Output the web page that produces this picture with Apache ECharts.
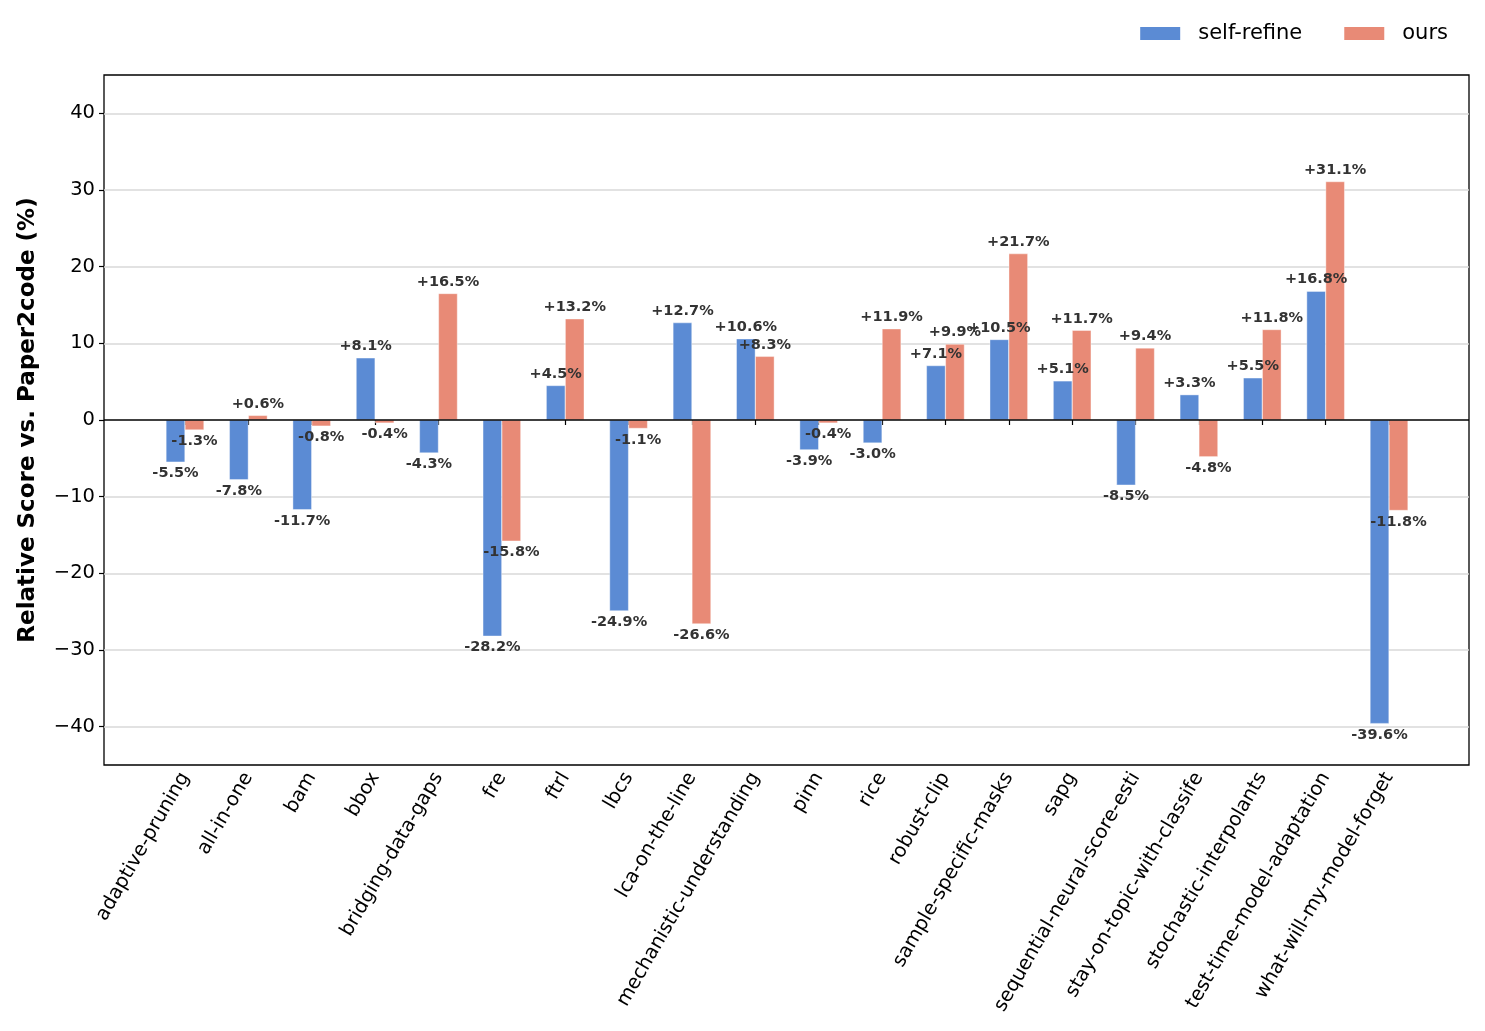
<!DOCTYPE html>
<html>
<head>
<meta charset="utf-8">
<script src="https://cdn.jsdelivr.net/npm/echarts@6/dist/echarts.min.js"></script>
<style>html,body{margin:0;padding:0;background:#fff;}#c{width:1485px;height:1031px;}</style>
</head>
<body>
<div id="c"></div>
<script>
const categories = ['adaptive-pruning','all-in-one','bam','bbox','bridging-data-gaps','fre','ftrl','lbcs','lca-on-the-line','mechanistic-understanding','pinn','rice','robust-clip','sample-specific-masks','sapg','sequential-neural-score-esti','stay-on-topic-with-classife','stochastic-interpolants','test-time-model-adaptation','what-will-my-model-forget'];
const selfRefine = [-5.5,-7.8,-11.7,8.1,-4.3,-28.2,4.5,-24.9,12.7,10.6,-3.9,-3.0,7.1,10.5,5.1,-8.5,3.3,5.5,16.8,-39.6];
const ours = [-1.3,0.6,-0.8,-0.4,16.5,-15.8,13.2,-1.1,-26.6,8.3,-0.4,11.9,9.9,21.7,11.7,9.4,-4.8,11.8,31.1,-11.8];
const yTicks = [-40,-30,-20,-10,0,10,20,30,40];

const FONT = 'DejaVu Sans';
function fmt(v){ return (v >= 0 ? '+' : '-') + Math.abs(v).toFixed(1) + '%'; }
function items(arr){
  return arr.map(v => ({
    value: v,
    label: { position: v >= 0 ? 'top' : 'bottom' }
  }));
}
const labelStyle = {
  show: true, distance: 4, fontFamily: FONT, fontSize: 14.5, fontWeight: 'bold', color: '#333',
  formatter: p => fmt(p.value)
};

const chart = echarts.init(document.getElementById('c'), null, {renderer: 'canvas'});
chart.setOption({
  animation: false,
  backgroundColor: '#fff',
  textStyle: { fontFamily: FONT },
  legend: {
    right: 32, top: 18, itemWidth: 42, itemHeight: 15, itemGap: 40,
    icon: 'rect',
    textStyle: { fontFamily: FONT, fontSize: 21, color: '#000', padding: [0,0,0,12] },
    data: ['self-refine','ours']
  },
  grid: [
    { left: 104, right: 16, top: 75, bottom: 266, show: true, borderColor: '#000', borderWidth: 1.3, backgroundColor: 'transparent' },
    { left: 153.3, right: 64.3, top: 75, bottom: 266 }
  ],
  xAxis: [
    { gridIndex: 0, type: 'value', min: 0, max: 1, show: false },
    { gridIndex: 1, type: 'category', data: categories,
      axisLine: { show: false },
      axisTick: { show: true, alignWithLabel: true, length: 5, lineStyle: { color: '#000', width: 1.2 } },
      axisLabel: { rotate: 60, interval: 0, fontFamily: FONT, fontSize: 19.5, color: '#000', margin: 9 }
    }
  ],
  yAxis: [
    { gridIndex: 0, type: 'value', min: -45, max: 45,
      name: 'Relative Score vs. Paper2code (%)', nameLocation: 'middle', nameGap: 64,
      nameTextStyle: { fontFamily: FONT, fontSize: 23, fontWeight: 'bold', color: '#000' },
      axisLine: { show: false },
      splitLine: { show: false },
      axisTick: { show: true, length: 5, customValues: yTicks, lineStyle: { color: '#000', width: 1.2 } },
      axisLabel: { customValues: yTicks, fontFamily: FONT, fontSize: 19.5, color: '#000', margin: 9,
        formatter: v => v < 0 ? '\u2212' + Math.abs(v) : String(v) }
    },
    { gridIndex: 1, type: 'value', min: -45, max: 45, show: false, splitLine: { show: false } }
  ],
  series: [
    { type: 'scatter', xAxisIndex: 0, yAxisIndex: 0, data: [], z: 0, silent: true,
      markLine: { silent: true, z: 0, symbol: 'none', label: { show: false },
        lineStyle: { color: '#d9d9d9', width: 1.5, type: 'solid' },
        data: yTicks.filter(v => v !== 0).map(v => ({ yAxis: v })) } },
    { type: 'scatter', xAxisIndex: 0, yAxisIndex: 0, data: [], z: 10, silent: true,
      markLine: { silent: true, z: 10, symbol: 'none', label: { show: false },
        lineStyle: { color: '#000', width: 1.5, type: 'solid' },
        data: [{ yAxis: 0 }] } },
    { name: 'self-refine', type: 'bar', xAxisIndex: 1, yAxisIndex: 1, barWidth: 19, barGap: '0%',
      itemStyle: { color: '#5b8bd4', borderColor: '#fff', borderWidth: 0.4 },
      label: labelStyle, data: items(selfRefine), z: 3 },
    { name: 'ours', type: 'bar', xAxisIndex: 1, yAxisIndex: 1, barWidth: 19, barGap: '0%',
      itemStyle: { color: '#e88a76', borderColor: '#fff', borderWidth: 0.4 },
      label: labelStyle, data: items(ours), z: 3 }
  ]
});
</script>
</body>
</html>
